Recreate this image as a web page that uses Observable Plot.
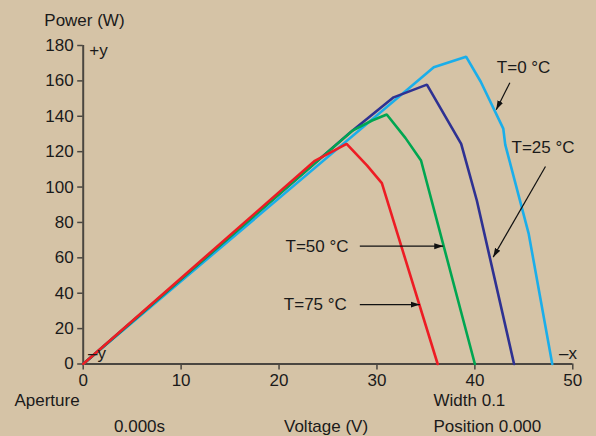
<!DOCTYPE html>
<html>
<head>
<meta charset="utf-8">
<script src="https://cdn.jsdelivr.net/npm/d3@7"></script>
<script src="https://cdn.jsdelivr.net/npm/@observablehq/plot@0.6"></script>
<style>
  body { margin: 0; background: #d5c3a6; }
  #wrap { position: relative; width: 596px; height: 436px; font-family: "Liberation Sans", Arial, sans-serif; font-size: 17px; color: #1a1a1a; }
  #wrap svg { position: absolute; left: 0; top: 0; }
  .lbl { position: absolute; white-space: nowrap; line-height: 1; }
</style>
</head>
<body>
<div id="wrap"></div>
<script>
// ---- data ----
const seriesNames = ["T=0 °C", "T=25 °C", "T=50 °C", "T=75 °C"];
const seriesColors = ["#1aaeea", "#2e3192", "#00a651", "#ed1c24"];

const volt0  = [0, 35.8, 39.1, 40.6, 42.9, 43.1, 45.5, 47.9];
const power0 = [0, 167.7, 173.7, 159.5, 133.0, 124.0, 73.5, 0];

const volt25  = [0, 27.3, 31.7, 35.1, 38.6, 40.2, 44.0];
const power25 = [0, 131.0, 150.7, 157.9, 124.4, 92.4, 0];

const volt50  = [0, 27.5, 29.5, 31.0, 32.9, 34.5, 40.0];
const power50 = [0, 131.9, 137.6, 141.0, 127.8, 115.0, 0];

const volt75  = [0, 23.6, 26.9, 29.0, 30.5, 36.2];
const power75 = [0, 114.6, 124.4, 112.1, 102.2, 0];

const xTicks = [0, 10, 20, 30, 40, 50];
const yTicks = [0, 20, 40, 60, 80, 100, 120, 140, 160, 180];

// annotation labels (data units) and their arrows
const noteText = ["T=0 °C", "T=25 °C", "T=50 °C", "T=75 °C"];
const noteX = [42.24, 43.74, 20.66, 20.49];
const noteY = [167.7, 122.5, 66.6, 33.6];
const arrowX1 = [43.57, 47.21, 28.25, 28.25];
const arrowY1 = [158.9, 111.6, 66.6, 33.6];
const arrowX2 = [42.18, 41.87, 36.77, 34.38];
const arrowY2 = [143.7, 60.4, 66.6, 33.6];

// ---- build tables ----
const seriesV = [volt0, volt25, volt50, volt75];
const seriesP = [power0, power25, power50, power75];
const rows = seriesNames.flatMap((name, i) =>
  seriesV[i].map((v, j) => ({series: name, v, p: seriesP[i][j]})));
const notes = noteText.map((t, i) => ({t, x: noteX[i], y: noteY[i]}));
const arrows = arrowX1.map((x1, i) => ({x1, y1: arrowY1[i], x2: arrowX2[i], y2: arrowY2[i]}));

const axisColor = "#4a4640";
const font = '"Liberation Sans", Arial, sans-serif';

const chart = Plot.plot({
  width: 596,
  height: 436,
  marginLeft: 82.7,
  marginRight: 23.7,
  marginTop: 45,
  marginBottom: 72.5,
  style: {background: "transparent", fontSize: "17px", fontFamily: font, color: "#1a1a1a", overflow: "visible"},
  x: {domain: [0, 50]},
  y: {domain: [0, 180]},
  color: {domain: seriesNames, range: seriesColors},
  marks: [
    Plot.axisX({ticks: xTicks, tickSize: 6, tickPadding: 4, label: null, stroke: axisColor, strokeWidth: 1.5, fontSize: 17}),
    Plot.axisY({ticks: yTicks, tickSize: 5.5, tickPadding: 4, label: null, stroke: axisColor, strokeWidth: 1.5, fontSize: 17}),
    Plot.ruleX([0], {stroke: axisColor, strokeWidth: 2}),
    Plot.ruleY([0], {stroke: axisColor, strokeWidth: 2.2}),
    Plot.line(rows, {x: "v", y: "p", z: "series", stroke: "series", strokeWidth: 2.6, strokeLinejoin: "miter"}),
    Plot.link(arrows, {x1: "x1", y1: "y1", x2: "x2", y2: "y2", stroke: "#111", strokeWidth: 1.2, markerEnd: "arrow"}),
    Plot.text(notes, {x: "x", y: "y", text: "t", textAnchor: "start", fontSize: 17, fill: "#1a1a1a"})
  ]
});

// filled arrowheads
chart.querySelectorAll("marker").forEach(m => {
  m.setAttribute("viewBox", "-10 -5 10 10");
  m.setAttribute("markerWidth", 7.5);
  m.setAttribute("markerHeight", 7.5);
  m.setAttribute("fill", "#111");
  m.setAttribute("stroke", "none");
  const p = m.querySelector("path");
  if (p) p.setAttribute("d", "M-10,-3.3L0,0L-10,3.3Z");
});

const wrap = document.getElementById("wrap");
wrap.appendChild(chart);

const labels = [
  ["Power (W)", 44.3, 11.7],
  ["+y", 89.3, 41.7],
  ["\u2013y", 88, 344.7],
  ["\u2013x", 559, 344.7],
  ["Aperture", 14.4, 391.7],
  ["0.000s", 114, 417.7],
  ["Voltage (V)", 284, 417.7],
  ["Width 0.1", 433.5, 391.7],
  ["Position 0.000", 433.5, 417.7]
];
labels.forEach(([t, l, tp]) => {
  const s = document.createElement("span");
  s.className = "lbl";
  s.textContent = t;
  s.style.left = l + "px";
  s.style.top = tp + "px";
  wrap.appendChild(s);
});
</script>
</body>
</html>
